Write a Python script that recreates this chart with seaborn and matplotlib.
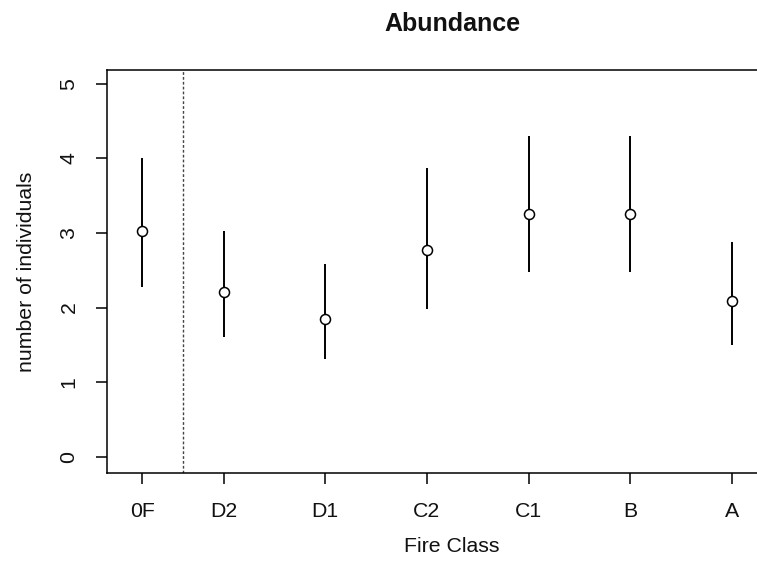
import matplotlib
matplotlib.use("Agg")
import matplotlib.pyplot as plt
import seaborn as sns
import pandas as pd

# Fire classes and abundance summaries (mean with interval bounds)
classes = ["0F", "D2", "D1", "C2", "C1", "B", "A"]
x_pos = [0.2, 1, 2, 3, 4, 5, 6]
mean = [3.02, 2.21, 1.84, 2.77, 3.26, 3.26, 2.09]
lower = [2.27, 1.60, 1.31, 1.98, 2.47, 2.47, 1.50]
upper = [4.00, 3.02, 2.58, 3.87, 4.30, 4.30, 2.88]
y_ticks = [0, 1, 2, 3, 4, 5]

df = pd.DataFrame({"cls": classes, "x": x_pos, "mean": mean,
                   "lower": lower, "upper": upper})

sns.set_style("white")
plt.rcParams["font.family"] = ["Liberation Sans", "DejaVu Sans"]

fig = plt.figure(figsize=(7.57, 5.61), dpi=100)
ax = fig.add_axes([0.14135, 0.1563, 0.9115, 0.7189])

# interval bars
ax.vlines(df["x"], df["lower"], df["upper"], color="black", lw=1.4, zorder=2)

# open circle at each mean
sns.scatterplot(data=df, x="x", y="mean", ax=ax, marker="o", s=52,
                facecolor="white", edgecolor="black", linewidth=1.1,
                zorder=3, legend=False)

# separator between unburnt reference and fire classes
ax.axvline((df["x"].iloc[0] + df["x"].iloc[1]) / 2, color="#444444",
           lw=1.0, ls=(0, (2, 1.5)), zorder=1)

ax.set_xlim(-0.146, 6.638)
ax.set_ylim(-0.223, 5.184)
ax.set_xticks(df["x"])
ax.set_xticklabels(classes)
ax.set_yticks(y_ticks)
ax.set_yticklabels([str(v) for v in y_ticks], rotation=90, va="center")

for side in ["top", "bottom", "left", "right"]:
    ax.spines[side].set_visible(True)
    ax.spines[side].set_color("black")
    ax.spines[side].set_linewidth(1.1)

ax.tick_params(axis="both", which="major", direction="out", length=8,
               width=1.1, color="black", labelsize=15.3, labelcolor="#111111",
               pad=12.5, bottom=True, left=True)

ax.set_xlabel("Fire Class", fontsize=15.3, color="#111111", labelpad=12)
ax.set_ylabel("number of individuals", fontsize=15.3, color="#111111",
              labelpad=17)
ax.set_title("Abundance", fontsize=18, fontweight="bold", color="#111111",
             pad=28)

fig.savefig("out.png", dpi=100, facecolor="white")
